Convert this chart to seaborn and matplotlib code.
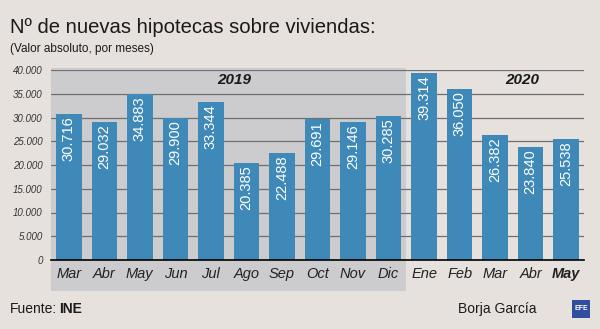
import matplotlib
matplotlib.use("Agg")
import matplotlib.pyplot as plt
import seaborn as sns
import pandas as pd
import numpy as np
from matplotlib.patches import Rectangle

# ---- data ----
meses = ["Mar", "Abr", "May", "Jun", "Jul", "Ago", "Sep", "Oct", "Nov", "Dic",
         "Ene", "Feb", "Mar", "Abr", "May"]
anios = [2019] * 10 + [2020] * 5
valores = [30716, 29032, 34883, 29900, 33344, 20385, 22488, 29691, 29146, 30285,
           39314, 36050, 26382, 23840, 25538]
yticks = [0, 5000, 10000, 15000, 20000, 25000, 30000, 35000, 40000]

titulo = "Nº de nuevas hipotecas sobre viviendas:"
subtitulo = "(Valor absoluto, por meses)"

BG = "#e6e1dd"
SHADE = "#cccbce"
BAR = "#3e89b8"
FONT = ["Liberation Sans", "DejaVu Sans"]

sns.set_theme(style="white")
plt.rcParams["font.family"] = FONT

df = pd.DataFrame({"clave": [f"{m}-{a}" for m, a in zip(meses, anios)],
                   "mes": meses, "anio": anios, "valor": valores})

fig = plt.figure(figsize=(6, 3.29), dpi=100, facecolor=BG)
W, H = 600, 329
ax = fig.add_axes([51 / W, 1 - 260 / H, 533 / W, 190 / H])
ax.set_facecolor("none")

sns.barplot(data=df, x="clave", y="valor", order=df["clave"], color=BAR,
            saturation=1, width=0.72, ax=ax, zorder=3, linewidth=0, edgecolor="none")

ax.set_xlim(-0.5, len(meses) - 0.5)
ax.set_ylim(0, 40000)

# 2019 shaded block
n19 = sum(1 for a in anios if a == 2019)
ax.add_patch(Rectangle((-0.5, -31 / 190), n19, 1 + 31 / 190 + 2 / 190,
                       transform=ax.get_xaxis_transform(), facecolor=SHADE,
                       edgecolor="none", clip_on=False, zorder=0))

# grid
for v in yticks[1:]:
    ax.axhline(v, color="#6f6f6f", lw=0.9, zorder=1)

for s in ["top", "right", "left"]:
    ax.spines[s].set_visible(False)
ax.spines["bottom"].set_color("black")
ax.spines["bottom"].set_linewidth(1.2)
ax.spines["bottom"].set_zorder(4)

# y ticks
ax.set_yticks(yticks)
ax.set_yticklabels([f"{v:,}".replace(",", ".") for v in yticks],
                   fontstyle="italic", fontsize=7, color="#333333")
ax.tick_params(axis="y", length=0, pad=6)

# x ticks: boundaries as major, labels on minor
ax.set_xticks(np.arange(-0.5, len(meses), 1.0))
ax.set_xticklabels([])
ax.tick_params(axis="x", which="major", length=5, width=1.1, color="black", direction="out")
ax.set_xticks(np.arange(len(meses)), minor=True)
ax.set_xticklabels(meses, minor=True, fontstyle="italic", fontsize=10.5, color="#222222")
ax.tick_params(axis="x", which="minor", length=0, pad=5)
for i, lab in enumerate(ax.get_xticklabels(minor=True)):
    if i == len(meses) - 1:
        lab.set_fontweight("bold")
ax.set_xlabel("")
ax.set_ylabel("")

# bar value labels
for i, v in enumerate(valores):
    ax.text(i, v - 500, f"{v:,}".replace(",", "."), rotation=90, ha="center",
            va="top", color="white", fontsize=10.5, zorder=5)

# year labels
ax.text((n19 - 1) / 2 + 0.15, 37900, "2019", ha="center", va="center",
        fontsize=11, fontweight="bold", fontstyle="italic", color="#1a1a1a", zorder=5)
ax.text(n19 + (len(meses) - n19 - 1) / 2 + 0.75, 37900, "2020", ha="center", va="center",
        fontsize=11, fontweight="bold", fontstyle="italic", color="#1a1a1a", zorder=5)

# titles
fig.text(10 / W, 1 - 33 / H, titulo, fontsize=14.6, color="#1a1a1a", va="baseline", ha="left")
fig.text(10 / W, 1 - 52 / H, subtitulo, fontsize=8.5, color="#1a1a1a", va="baseline", ha="left")

# footer
t1 = fig.text(10 / W, 1 - 313 / H, "Fuente:", fontsize=10, color="#1a1a1a",
              va="baseline", ha="left")
fig.canvas.draw()
bb = t1.get_window_extent()
fig.text((bb.x1 + 1.5) / W, 1 - 313 / H, "INE", fontsize=10, color="#1a1a1a", fontweight="bold",
         va="baseline", ha="left")
fig.text(537 / W, 1 - 313 / H, "Borja García", fontsize=10, color="#1a1a1a",
         va="baseline", ha="right")
fig.patches.append(Rectangle((572 / W, 1 - 318 / H), 18 / W, 18 / H,
                             transform=fig.transFigure, facecolor="#2f4f9e",
                             edgecolor="none", figure=fig))
fig.text(581 / W, 1 - 309 / H, "EFE", fontsize=5, color="white", fontweight="bold",
         ha="center", va="center")

fig.savefig("out.png", dpi=100, facecolor=BG)
